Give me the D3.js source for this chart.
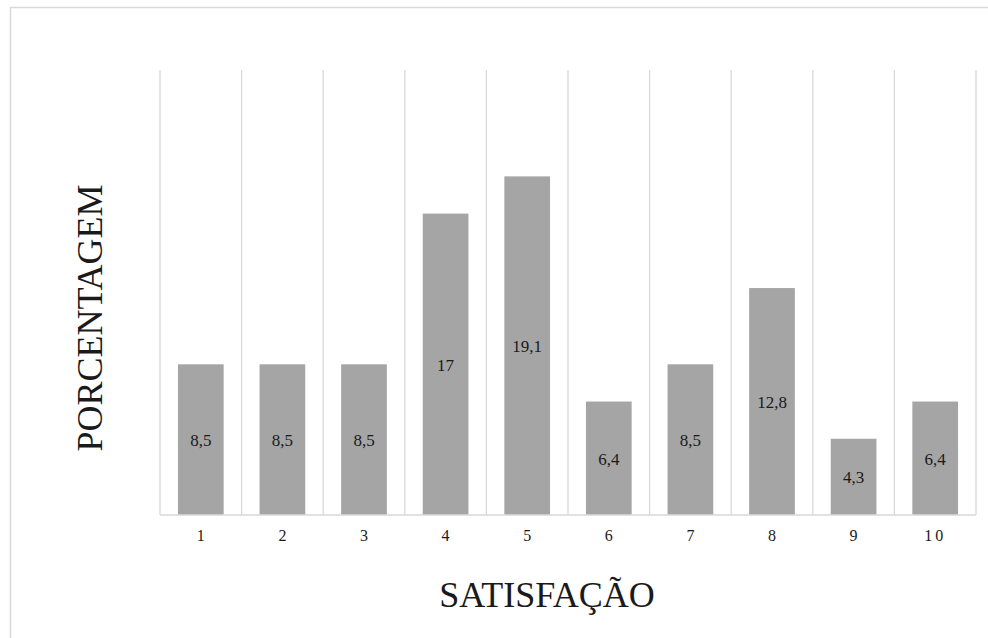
<!DOCTYPE html>
<html>
<head>
<meta charset="utf-8">
<script src="https://cdn.jsdelivr.net/npm/d3@7"></script>
<style>
  html, body { margin: 0; padding: 0; background: #fff; overflow: hidden; }
  svg { display: block; }
  text { font-family: "Liberation Serif", "Times New Roman", serif; }
</style>
</head>
<body>
<svg id="chart" width="988" height="638"></svg>
<script>
const categories = ["1", "2", "3", "4", "5", "6", "7", "8", "9", "10"];
const values = [8.5, 8.5, 8.5, 17, 19.1, 6.4, 8.5, 12.8, 4.3, 6.4];
const valueLabels = ["8,5", "8,5", "8,5", "17", "19,1", "6,4", "8,5", "12,8", "4,3", "6,4"];
const yMax = 25.1;
const xTitle = "SATISFAÇÃO";
const yTitle = "PORCENTAGEM";

const svg = d3.select("#chart");
const font = "Liberation Serif, Times New Roman, serif";
const textColor = "#1a1a1a";

// outer chart border (extends beyond the viewport right & bottom)
svg.append("rect")
  .attr("x", 10.5).attr("y", 7.5)
  .attr("width", 1000).attr("height", 700)
  .attr("fill", "none")
  .attr("stroke", "#d9d9d9")
  .attr("stroke-width", 1.5);

const plot = { left: 160, right: 976, top: 70, bottom: 515 };

const x = d3.scaleBand()
  .domain(categories)
  .range([plot.left, plot.right])
  .paddingInner(0.44)
  .paddingOuter(0.22);

const y = d3.scaleLinear()
  .domain([0, yMax])
  .range([plot.bottom, plot.top]);

// vertical gridlines at band boundaries
const step = x.step();
const gridX = categories.map(c => x(c) - (step - x.bandwidth()) / 2);
gridX.push(plot.right);
svg.append("g")
  .selectAll("line")
  .data(gridX)
  .join("line")
  .attr("x1", d => d).attr("x2", d => d)
  .attr("y1", plot.top).attr("y2", plot.bottom)
  .attr("stroke", "#d9d9d9")
  .attr("stroke-width", 1.3);

// bars
svg.append("g")
  .selectAll("rect")
  .data(values)
  .join("rect")
  .attr("x", (d, i) => x(categories[i]))
  .attr("y", d => y(d))
  .attr("width", x.bandwidth())
  .attr("height", d => y(0) - y(d))
  .attr("fill", "#a5a5a5");

// value labels centred in bars
svg.append("g")
  .selectAll("text")
  .data(values)
  .join("text")
  .attr("x", (d, i) => x(categories[i]) + x.bandwidth() / 2)
  .attr("y", d => (y(d) + y(0)) / 2)
  .attr("dy", "0.38em")
  .attr("text-anchor", "middle")
  .style("font-family", font)
  .attr("font-size", 17)
  .attr("fill", textColor)
  .text((d, i) => valueLabels[i]);

// x axis
const xAxis = d3.axisBottom(x).tickSize(0).tickPadding(15);
const gx = svg.append("g")
  .attr("transform", `translate(0,${plot.bottom})`)
  .call(xAxis);
gx.attr("font-family", null);
gx.select(".domain")
  .attr("d", `M${plot.left},0H${plot.right}`)
  .attr("stroke", "#d9d9d9")
  .attr("stroke-width", 1.5);
gx.selectAll("text")
  .style("font-family", font)
  .attr("font-size", 16)
  .attr("fill", textColor)
  .attr("letter-spacing", d => d.length > 1 ? "3px" : null);

// axis titles
svg.append("text")
  .attr("x", (plot.left + plot.right) / 2 - 21)
  .attr("y", 607)
  .attr("text-anchor", "middle")
  .style("font-family", font)
  .attr("font-size", 36)
  .attr("fill", textColor)
  .text(xTitle);

svg.append("text")
  .attr("transform", `translate(102,318) rotate(-90)`)
  .attr("text-anchor", "middle")
  .style("font-family", font)
  .attr("font-size", 36)
  .attr("fill", textColor)
  .text(yTitle);
</script>
</body>
</html>
